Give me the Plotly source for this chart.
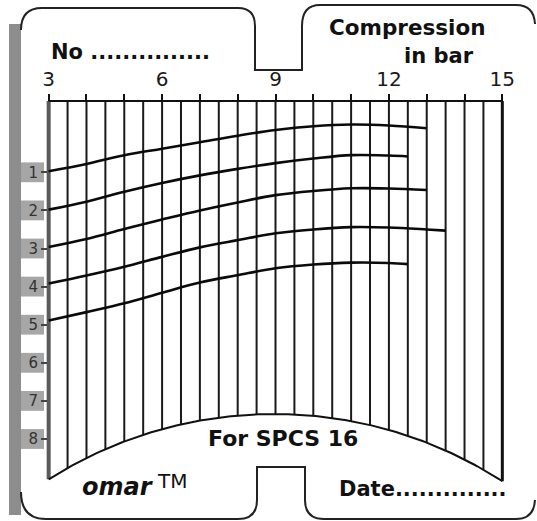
import numpy as np
import plotly.graph_objects as go

# ---------------- data ----------------
pressure_ticks = list(range(3, 16))  # bar
pressure_labels = ["3", "", "", "6", "", "", "9", "", "", "12", "", "", "15"]
grid_bar = [3 + 0.5 * i for i in range(25)]  # half-bar ruling
cylinder_rows = [1, 2, 3, 4, 5, 6, 7, 8]

cyl1_bar = [3, 4, 5, 6, 7, 8, 9, 10, 11, 12, 13]
cyl1_row = [0.97, 0.78, 0.55, 0.38, 0.21, 0.04, -0.11, -0.21, -0.255, -0.23, -0.155]
cyl2_bar = [3, 4, 5, 6, 7, 8, 9, 10, 11, 12, 12.5]
cyl2_row = [1.98, 1.77, 1.51, 1.28, 1.08, 0.91, 0.76, 0.64, 0.55, 0.56, 0.585]
cyl3_bar = [3, 4, 5, 6, 7, 8, 9, 10, 11, 12, 13]
cyl3_row = [2.96, 2.75, 2.49, 2.24, 2.00, 1.79, 1.60, 1.49, 1.42, 1.425, 1.465]
cyl4_bar = [3, 4, 5, 6, 7, 8, 9, 10, 11, 12, 13, 13.5]
cyl4_row = [3.92, 3.71, 3.48, 3.22, 2.97, 2.78, 2.60, 2.50, 2.44, 2.45, 2.50, 2.53]
cyl5_bar = [3, 4, 5, 6, 7, 8, 9, 10, 11, 12, 12.5]
cyl5_row = [4.89, 4.67, 4.44, 4.16, 3.89, 3.70, 3.52, 3.42, 3.37, 3.38, 3.41]
curves = [(cyl1_bar, cyl1_row), (cyl2_bar, cyl2_row), (cyl3_bar, cyl3_row),
          (cyl4_bar, cyl4_row), (cyl5_bar, cyl5_row)]

# ---------------- geometry ----------------
W, H = 537, 521
ML, MR, MT, MB = 43, 29, 95, 31
XR = [2.85, 15.15]
YR = [9.3386, -1.0289]  # reversed: rows grow downward
PW, PH = W - ML - MR, H - MT - MB


def xpx(b):
    return ML + (b - XR[0]) / (XR[1] - XR[0]) * PW


def row_of_py(py):
    return YR[1] + (py - MT) / PH * (YR[0] - YR[1])


def paper_x(px):
    return (px - ML) / PW


def paper_y(py):
    return (H - MB - py) / PH


def P(px, py):
    return f"{paper_x(px):.5f},{paper_y(py):.5f}"


def arc_py(px):
    return 835.4 - np.sqrt(421.4 ** 2 - (px - 274.0) ** 2)


TOP = row_of_py(101)

fig = go.Figure()

# vertical rulings down to the bottom arc
vx, vy = [], []
for b in grid_bar[1:-1]:
    vx += [b, b, None]
    vy += [TOP, row_of_py(arc_py(xpx(b))), None]
fig.add_trace(go.Scatter(x=vx, y=vy, mode="lines",
                         line=dict(color="#1a1a1a", width=2), hoverinfo="skip"))
fig.add_trace(go.Scatter(x=[grid_bar[0], grid_bar[0]],
                         y=[TOP, row_of_py(arc_py(xpx(grid_bar[0])))], mode="lines",
                         line=dict(color="#5a5a5a", width=4), hoverinfo="skip"))
fig.add_trace(go.Scatter(x=[grid_bar[-1], grid_bar[-1]],
                         y=[TOP, row_of_py(arc_py(xpx(grid_bar[-1])))], mode="lines",
                         line=dict(color="#111", width=3), hoverinfo="skip"))
# top scale line
fig.add_trace(go.Scatter(x=[pressure_ticks[0], pressure_ticks[-1]], y=[TOP, TOP], mode="lines",
                         line=dict(color="#111", width=2), hoverinfo="skip"))
# bottom arc
ab = np.linspace(grid_bar[0], grid_bar[-1], 200)
fig.add_trace(go.Scatter(x=ab, y=[row_of_py(arc_py(xpx(b))) for b in ab], mode="lines",
                         line=dict(color="#111", width=2), hoverinfo="skip"))

# compression traces
for bx, ry in curves:
    fig.add_trace(go.Scatter(x=bx, y=ry, mode="lines",
                             line=dict(color="#0a0a0a", width=2.6, shape="spline", smoothing=1.0),
                             hoverinfo="skip"))

# ---------------- decorations ----------------
shapes = []
shapes.append(dict(type="rect", xref="paper", yref="paper",
                   x0=paper_x(9), x1=paper_x(21), y0=paper_y(515), y1=paper_y(24),
                   fillcolor="#8d8d8d", line=dict(width=0), layer="below"))
for r in cylinder_rows:
    shapes.append(dict(type="rect", xref="paper", yref="y",
                       x0=paper_x(21), x1=paper_x(44), y0=r - 0.26, y1=r + 0.26,
                       fillcolor="#a6a6a6", line=dict(width=0), layer="below"))
top_path = (f"M {P(21,30)} Q {P(21,8)} {P(42,8)} L {P(238,8)} Q {P(255,8)} {P(255,26)} "
            f"L {P(255,70)} L {P(302,70)} L {P(302,26)} Q {P(302,5)} {P(320,5)} "
            f"L {P(516,5)} Q {P(534,5)} {P(535,24)}")
bot_path = (f"M {P(21,492)} Q {P(21,519)} {P(46,519)} L {P(238,519)} Q {P(257,519)} {P(257,500)} "
            f"L {P(257,467)} L {P(305,467)} L {P(305,500)} Q {P(305,519)} {P(324,519)} "
            f"L {P(516,519)} Q {P(534,519)} {P(535,500)}")
for pth in (top_path, bot_path):
    shapes.append(dict(type="path", xref="paper", yref="paper", path=pth,
                       line=dict(color="#222", width=2)))

FONT = "DejaVu Sans"


def ann(text, px, py, size, xanchor="center", color="#111"):
    return dict(text=text, x=paper_x(px), y=paper_y(py), xref="paper", yref="paper",
                xanchor=xanchor, yanchor="middle", showarrow=False,
                font=dict(family=FONT, size=size, color=color))


annotations = [
    ann("<b>No ...............</b>", 49, 51.5, 21, xanchor="left"),
    ann("<b>Compression</b>", 407.5, 27.5, 21.5),
    ann("<b>in bar</b>", 438.5, 56, 21),
    ann("<b>For SPCS 16</b>", 282.5, 438, 22),
    ann("<b><i>omar</i></b>", 118, 487, 24),
    ann("TM", 172, 481, 20),
    ann("<b>Date..............</b>", 337, 489, 21, xanchor="left"),
]

fig.update_layout(
    width=W, height=H, autosize=False,
    margin=dict(l=ML, r=MR, t=MT, b=MB, pad=0),
    paper_bgcolor="white", plot_bgcolor="white",
    showlegend=False,
    shapes=shapes, annotations=annotations,
    xaxis=dict(range=XR, side="top", anchor="free", position=paper_y(101),
               tickvals=pressure_ticks, ticktext=pressure_labels,
               ticks="outside", ticklen=7, tickwidth=2, tickcolor="#111",
               showgrid=False, zeroline=False, showline=False,
               tickfont=dict(family=FONT, size=20, color="#1a1a1a")),
    yaxis=dict(range=YR, anchor="free", position=paper_x(47),
               tickvals=cylinder_rows, ticktext=[str(r) for r in cylinder_rows],
               ticks="outside", ticklen=6, tickwidth=2, tickcolor="#444",
               showgrid=False, zeroline=False, showline=False,
               tickfont=dict(family=FONT, size=15, color="#333")),
)

fig.write_html("out.html", config={"displayModeBar": False},
               post_script="document.body.style.margin='0';document.body.style.overflow='hidden';")
